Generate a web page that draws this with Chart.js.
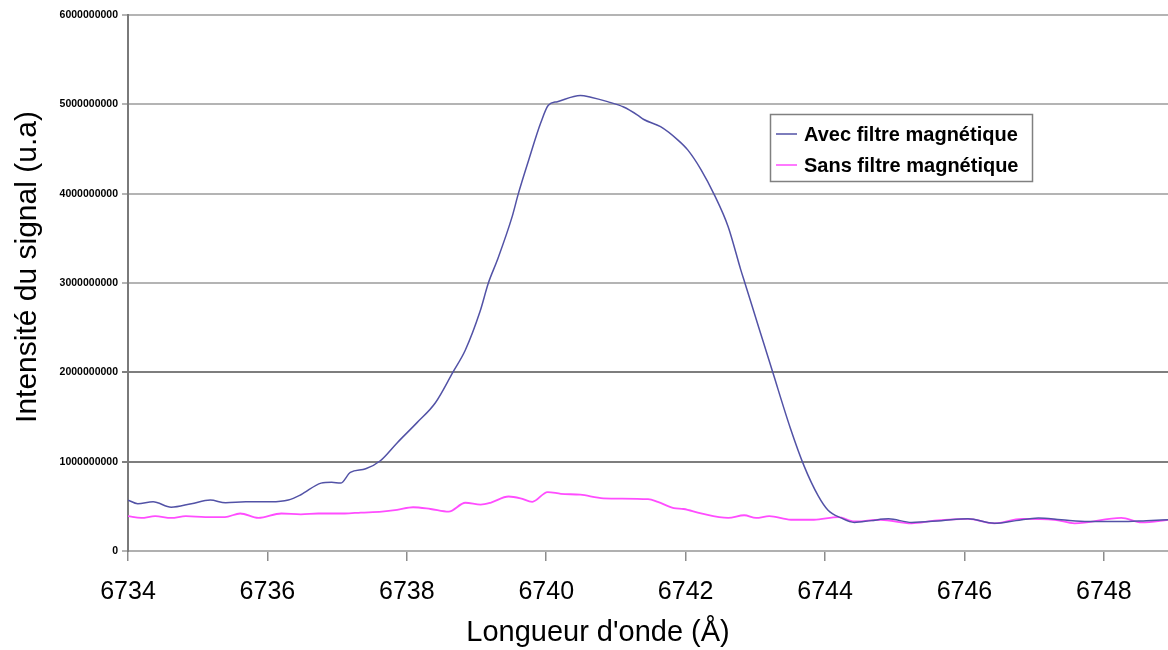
<!DOCTYPE html>
<html>
<head>
<meta charset="utf-8">
<script src="https://cdn.jsdelivr.net/npm/chart.js@4.4.0/dist/chart.umd.min.js"></script>
<style>
  html, body { margin: 0; padding: 0; background: #fff; overflow: hidden; }
  #wrap { width: 1168px; height: 650px; position: relative; }
</style>
</head>
<body>
<div id="wrap"><canvas id="spectre"></canvas></div>
<script>
// Longueurs d'onde (Å) et intensités
const avecLambda = [6734.00, 6734.14, 6734.36, 6734.62, 6734.91, 6735.18, 6735.40, 6735.69, 6736.05, 6736.30,
  6736.48, 6736.77, 6736.92, 6737.05, 6737.19, 6737.41, 6737.62, 6737.86, 6738.15, 6738.41,
  6738.66, 6738.84, 6739.05, 6739.17, 6739.30, 6739.51, 6739.60, 6739.75, 6739.92, 6740.03,
  6740.16, 6740.49, 6740.64, 6740.88, 6741.11, 6741.31, 6741.40, 6741.64, 6741.89, 6742.03,
  6742.22, 6742.41, 6742.61, 6742.79, 6742.85, 6743.05, 6743.25, 6743.50, 6743.70, 6743.90,
  6744.04, 6744.23, 6744.42, 6744.66, 6744.91, 6745.24, 6745.67, 6746.05, 6746.43, 6746.74,
  6747.06, 6747.39, 6747.78, 6748.25, 6748.61, 6748.94];
const avecSignal = [0.57e9, 0.53e9, 0.55e9, 0.49e9, 0.53e9, 0.57e9, 0.54e9, 0.55e9, 0.55e9, 0.57e9,
  0.63e9, 0.76e9, 0.77e9, 0.76e9, 0.88e9, 0.92e9, 1.01e9, 1.21e9, 1.44e9, 1.66e9,
  2.00e9, 2.25e9, 2.68e9, 3.00e9, 3.26e9, 3.74e9, 4.00e9, 4.38e9, 4.79e9, 4.99e9,
  5.03e9, 5.10e9, 5.08e9, 5.03e9, 4.97e9, 4.88e9, 4.83e9, 4.75e9, 4.60e9, 4.49e9,
  4.27e9, 3.99e9, 3.63e9, 3.15e9, 3.00e9, 2.50e9, 2.00e9, 1.38e9, 0.95e9, 0.62e9,
  0.46e9, 0.37e9, 0.32e9, 0.34e9, 0.36e9, 0.32e9, 0.34e9, 0.36e9, 0.31e9, 0.34e9,
  0.37e9, 0.35e9, 0.33e9, 0.33e9, 0.34e9, 0.35e9];

const sansLambda = [6734.00, 6734.19, 6734.39, 6734.62, 6734.83, 6735.11, 6735.39, 6735.61, 6735.87, 6736.20,
  6736.48, 6736.73, 6737.11, 6737.34, 6737.64, 6737.86, 6738.09, 6738.34, 6738.60, 6738.84,
  6739.06, 6739.20, 6739.46, 6739.63, 6739.80, 6740.02, 6740.21, 6740.49, 6740.82, 6741.46,
  6741.60, 6741.83, 6741.97, 6742.22, 6742.61, 6742.84, 6743.01, 6743.20, 6743.51, 6743.84,
  6744.19, 6744.42, 6744.80, 6745.24, 6745.57, 6746.05, 6746.43, 6746.82, 6747.29, 6747.58,
  6748.25, 6748.54, 6748.94];
const sansSignal = [0.39e9, 0.37e9, 0.39e9, 0.37e9, 0.39e9, 0.38e9, 0.38e9, 0.42e9, 0.37e9, 0.42e9,
  0.41e9, 0.42e9, 0.42e9, 0.43e9, 0.44e9, 0.46e9, 0.49e9, 0.47e9, 0.44e9, 0.54e9,
  0.52e9, 0.54e9, 0.61e9, 0.59e9, 0.55e9, 0.66e9, 0.64e9, 0.63e9, 0.59e9, 0.58e9,
  0.55e9, 0.48e9, 0.47e9, 0.42e9, 0.37e9, 0.40e9, 0.37e9, 0.39e9, 0.35e9, 0.35e9,
  0.38e9, 0.33e9, 0.35e9, 0.31e9, 0.34e9, 0.36e9, 0.31e9, 0.36e9, 0.35e9, 0.31e9,
  0.37e9, 0.32e9, 0.35e9];

const xTicks = [6734, 6736, 6738, 6740, 6742, 6744, 6746, 6748];
const yTicks = [0, 1000000000, 2000000000, 3000000000, 4000000000, 5000000000, 6000000000];
const darkGridTicks = [1000000000, 2000000000];

const seriesLabels = ['Avec filtre magnétique', 'Sans filtre magnétique'];
const xTitle = "Longueur d'onde (Å)";
const yTitle = 'Intensité du signal (u.a)';

const FONT = '"Liberation Sans", Arial, sans-serif';

// Titres d'axes et légende dessinés à la main (position comme dans la figure)
const decor = {
  id: 'decor',
  afterDraw(chart) {
    const ctx = chart.ctx;
    ctx.save();
    ctx.fillStyle = '#000';
    ctx.textAlign = 'center';
    ctx.textBaseline = 'middle';
    ctx.font = '29px ' + FONT;
    ctx.fillText(xTitle, 598, 633);
    ctx.save();
    ctx.translate(28, 267);
    ctx.rotate(-Math.PI / 2);
    ctx.font = '30px ' + FONT;
    ctx.fillText(yTitle, 0, 0);
    ctx.restore();

    // légende
    const bx = 770, by = 114, bw = 262, bh = 67;
    ctx.fillStyle = '#fff';
    ctx.fillRect(bx, by, bw, bh);
    ctx.strokeStyle = '#808080';
    ctx.lineWidth = 1.5;
    ctx.strokeRect(bx + 0.5, by + 0.5, bw, bh);
    ctx.font = 'bold 20px ' + FONT;
    ctx.textAlign = 'left';
    chart.data.datasets.forEach((ds, i) => {
      const yy = by + 20 + i * 31;
      ctx.strokeStyle = ds.borderColor;
      ctx.lineWidth = 1.5;
      ctx.beginPath();
      ctx.moveTo(bx + 6, yy);
      ctx.lineTo(bx + 27, yy);
      ctx.stroke();
      ctx.fillStyle = '#000';
      ctx.fillText(ds.label, bx + 34, yy + 1);
    });
    ctx.restore();
  }
};

new Chart(document.getElementById('spectre'), {
  type: 'line',
  data: {
    datasets: [
      {
        label: seriesLabels[0],
        data: avecLambda.map((x, i) => ({ x: x, y: avecSignal[i] })),
        borderColor: '#5252a6',
        borderWidth: 1.5,
        pointRadius: 0,
        cubicInterpolationMode: 'monotone',
        fill: false
      },
      {
        label: seriesLabels[1],
        data: sansLambda.map((x, i) => ({ x: x, y: sansSignal[i] })),
        borderColor: '#ff4dff',
        borderWidth: 1.8,
        pointRadius: 0,
        cubicInterpolationMode: 'monotone',
        fill: false
      }
    ]
  },
  options: {
    responsive: true,
    maintainAspectRatio: false,
    animation: false,
    layout: { padding: { top: 15, right: 0, left: 0, bottom: 0 } },
    plugins: {
      legend: { display: false },
      tooltip: { enabled: false }
    },
    scales: {
      x: {
        type: 'linear',
        min: 6734,
        max: 6748.92,
        afterBuildTicks: axis => { axis.ticks = xTicks.map(v => ({ value: v })); },
        afterFit: axis => { axis.height = 99; },
        ticks: {
          color: '#000',
          font: { family: FONT, size: 25 },
          padding: 16,
          maxRotation: 0,
          callback: v => String(v)
        },
        grid: {
          drawOnChartArea: false,
          drawTicks: true,
          tickLength: 10,
          color: '#8c8c8c',
          lineWidth: 1.5
        },
        border: { display: true, color: '#b0b0b0', width: 2 }
      },
      y: {
        min: 0,
        max: 6000000000,
        afterBuildTicks: axis => { axis.ticks = yTicks.map(v => ({ value: v })); },
        afterFit: axis => { axis.width = 128; },
        ticks: {
          color: '#000',
          font: { family: FONT, size: 10.5, weight: 'bold' },
          padding: 4,
          callback: v => String(v)
        },
        grid: {
          color: c => (c.tick && darkGridTicks.includes(c.tick.value)) ? '#7e7e7e' : '#b4b4b4',
          lineWidth: 2,
          tickLength: 6
        },
        border: { display: true, color: '#7a7a7a', width: 2 }
      }
    }
  },
  plugins: [decor]
});
</script>
</body>
</html>
